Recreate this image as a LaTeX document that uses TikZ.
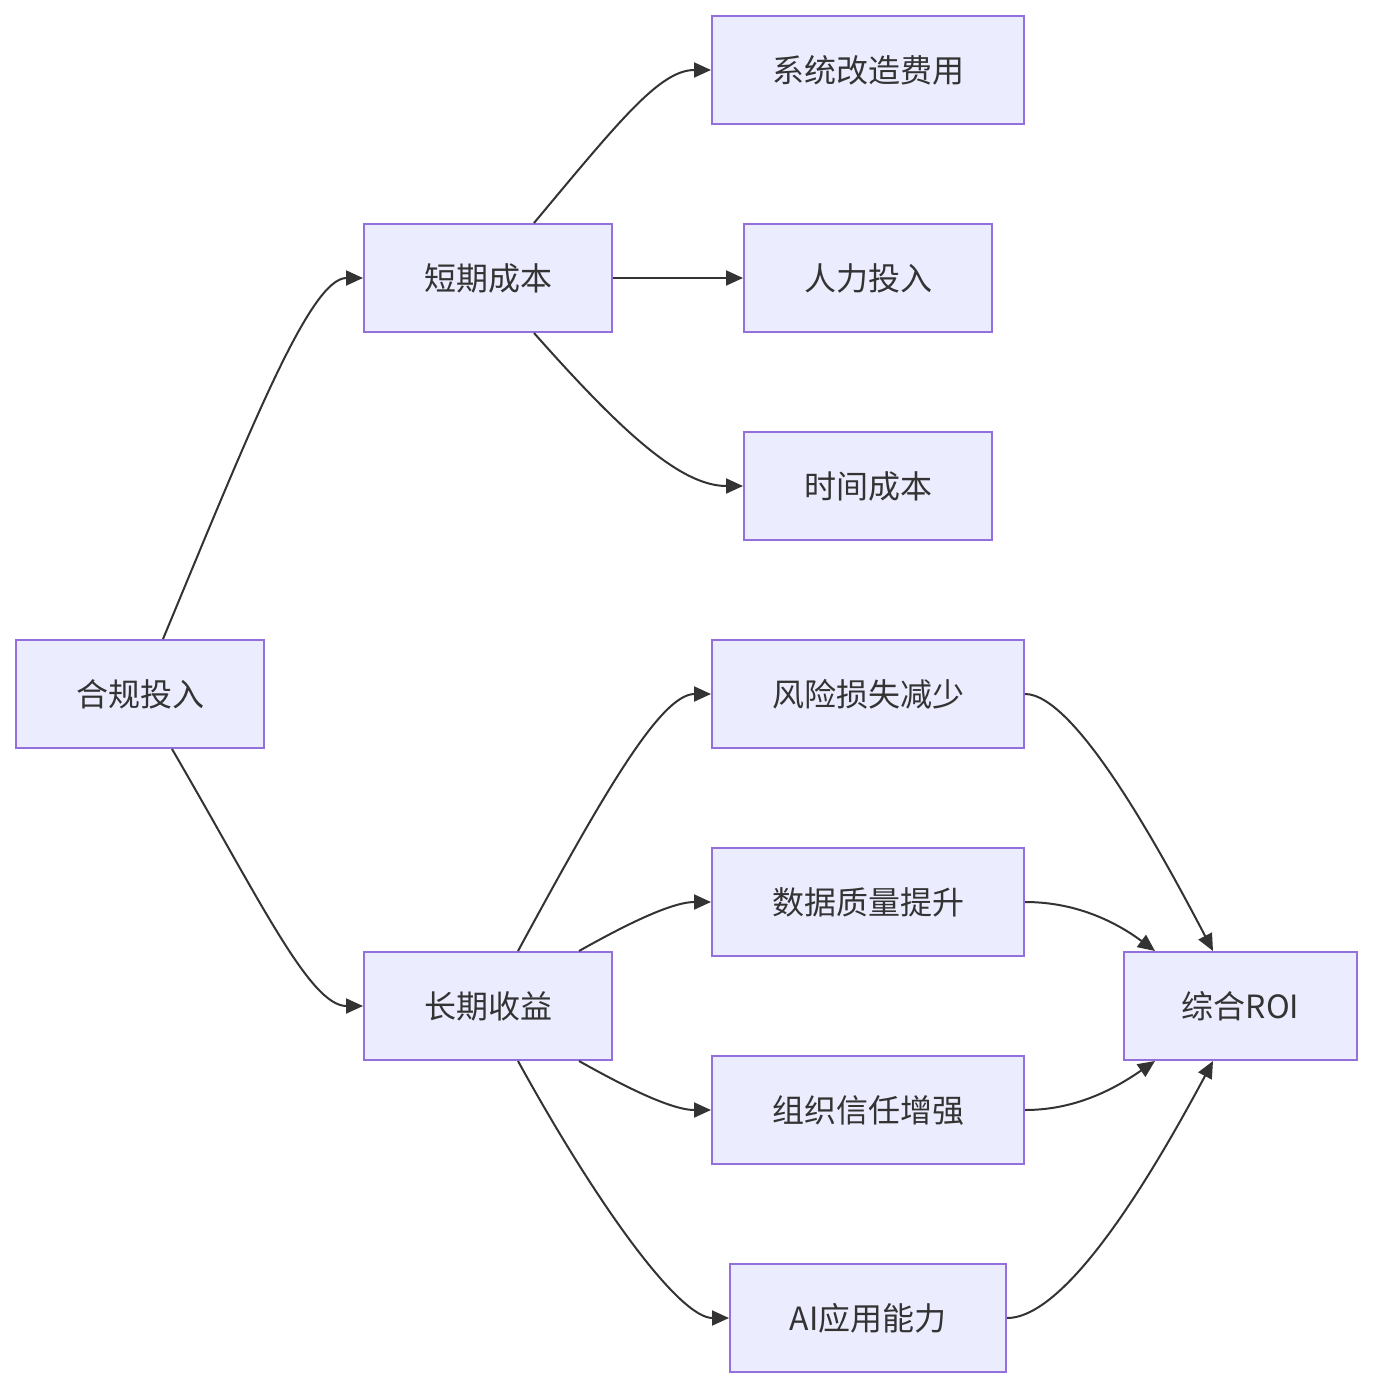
\documentclass[tikz,border=0pt]{standalone}
\usepackage{fontspec}
\newfontfamily\cjk{Noto Sans CJK SC}
\usetikzlibrary{arrows.meta}
\definecolor{boxfill}{HTML}{ECECFF}
\definecolor{boxline}{HTML}{9370DB}
\definecolor{ink}{HTML}{333333}
\tikzset{
  box/.style={draw=boxline, fill=boxfill, line width=2pt, minimum height=108pt,
    inner sep=0pt, font=\cjk\fontsize{32}{38}\selectfont, text=ink},
  link/.style={draw=ink, line width=2pt, -{Triangle[length=17pt,width=15pt]}}
}
\begin{document}
\begin{tikzpicture}[x=1pt,y=-1pt]
\useasboundingbox (0,0) rectangle (1373,1388);
\node[box, minimum width=248pt] (hg) at (140,694) {合规投入};
\node[box, minimum width=248pt] (dq) at (488,278) {短期成本};
\node[box, minimum width=248pt] (cq) at (488,1006) {长期收益};
\node[box, minimum width=312pt] (xt) at (868,70) {系统改造费用};
\node[box, minimum width=248pt] (rl) at (868,278) {人力投入};
\node[box, minimum width=248pt] (sj) at (868,486) {时间成本};
\node[box, minimum width=312pt] (fx) at (868,694) {风险损失减少};
\node[box, minimum width=312pt] (sz) at (868,902) {数据质量提升};
\node[box, minimum width=312pt] (zz) at (868,1110) {组织信任增强};
\node[box, minimum width=276pt] (ai) at (868,1318) {AI应用能力};
\node[box, minimum width=233pt] (roi) at (1240.5,1006) {综合ROI};

\draw[link] ([xshift=23pt]hg.north) .. controls (250,430) and (310,278) .. (dq.west);
\draw[link] ([xshift=32pt]hg.south) .. controls (260,900) and (310,1006) .. (cq.west);
\draw[link] ([xshift=46pt]dq.north) .. controls (620,120) and (660,70) .. (xt.west);
\draw[link] (dq.east) -- (rl.west);
\draw[link] ([xshift=46pt]dq.south) .. controls (620,430) and (680,486) .. (sj.west);
\draw[link] ([xshift=30pt]cq.north) .. controls (600,800) and (660,694) .. (fx.west);
\draw[link] ([xshift=91pt]cq.north) .. controls (620,928) and (670,902) .. (sz.west);
\draw[link] ([xshift=91pt]cq.south) .. controls (620,1084) and (670,1110) .. (zz.west);
\draw[link] ([xshift=30pt]cq.south) .. controls (600,1210) and (680,1318) .. (ai.west);
\draw[link] (fx.east) .. controls (1075,694) and (1160,850) .. ([xshift=-27.5pt]roi.north);
\draw[link] (sz.east) .. controls (1080,902) and (1120,925) .. ([xshift=-85.5pt]roi.north);
\draw[link] (zz.east) .. controls (1080,1110) and (1120,1085) .. ([xshift=-85.5pt]roi.south);
\draw[link] (ai.east) .. controls (1070,1318) and (1160,1160) .. ([xshift=-27.5pt]roi.south);
\end{tikzpicture}
\end{document}
